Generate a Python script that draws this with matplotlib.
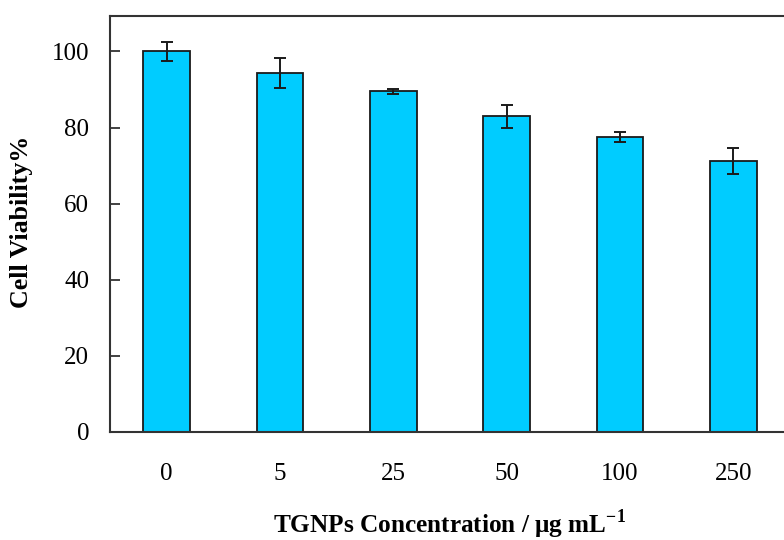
import matplotlib
matplotlib.use("Agg")
import matplotlib.pyplot as plt

categories = ["0", "5", "25", "50", "100", "250"]
viability = [100.0, 94.3, 89.5, 83.0, 77.4, 71.3]
errors = [2.5, 4.0, 0.6, 3.0, 1.3, 3.4]

plt.rcParams['font.family'] = ['Liberation Serif', 'DejaVu Serif']
plt.rcParams['mathtext.fontset'] = 'custom'
plt.rcParams['mathtext.rm'] = 'Liberation Serif'
plt.rcParams['mathtext.bf'] = 'Liberation Serif:bold'

fig = plt.figure(figsize=(7.84, 5.40), dpi=100)
W, H = 784, 540
left, right, top, bottom = 110, 790, 16, 432
ax = fig.add_axes([left / W, 1 - bottom / H, (right - left) / W, (bottom - top) / H])

x = list(range(len(categories)))
ax.bar(x, viability, width=0.41, color="#00CCFF", edgecolor="#1a1a1a", linewidth=1.3, zorder=2)
ax.errorbar(x, viability, yerr=errors, fmt="none", ecolor="#1a1a1a", elinewidth=1.4,
            capsize=4.5, capthick=1.4, zorder=3)

ax.set_xlim(-0.5, 5.5)
ax.set_ylim(0, 109.3)
ax.set_yticks([0, 20, 40, 60, 80, 100])
ax.set_xticks(x)
ax.set_xticklabels(categories)

for s in ax.spines.values():
    s.set_color("#333333")
    s.set_linewidth(1.5)

ax.tick_params(axis='y', direction='in', length=7, width=1.3, color="#333333",
               labelsize=18, pad=15)
ax.tick_params(axis='x', length=0, labelsize=18, pad=22)

ax.set_ylabel("Cell Viability%", fontsize=18.7, fontweight='bold', va='center')
ax.yaxis.set_label_coords((22 - left) / (right - left), (bottom - 222) / (bottom - top))
ax.set_xlabel("TGNPs Concentration / \u03bcg mL$^{\\mathbf{-1}}$", fontsize=18.2,
              fontweight='bold', va='center')
ax.xaxis.set_label_coords((449 - left) / (right - left), -(525 - bottom) / (bottom - top))

fig.savefig("out.png", dpi=100)
